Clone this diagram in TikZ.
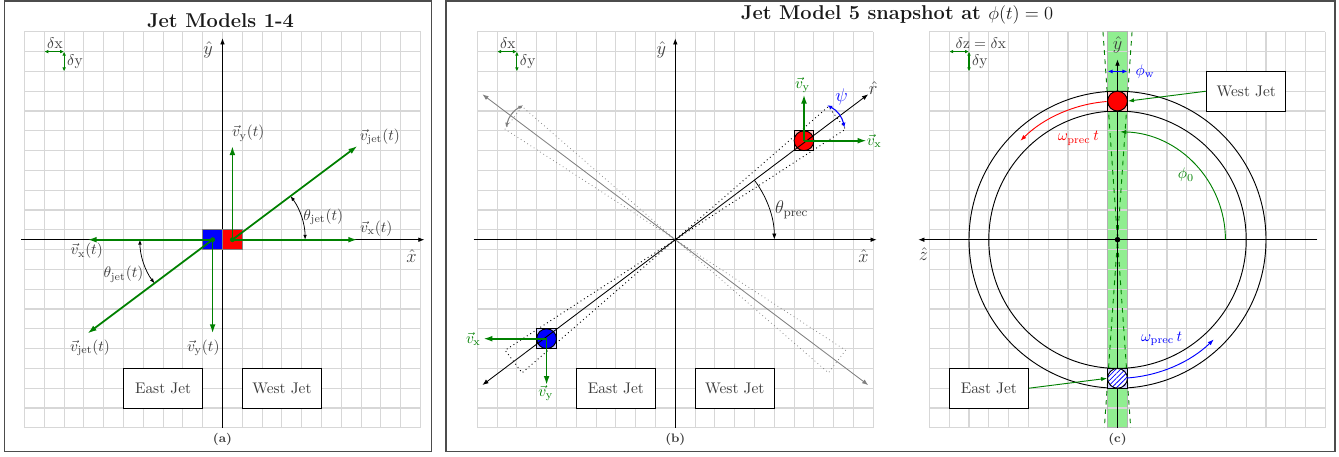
\documentclass[tikz,border=0pt]{standalone}
\usepackage{amsmath}
\usetikzlibrary{arrows.meta,patterns.meta}
\definecolor{gridgray}{RGB}{215,215,215}
\definecolor{lgreen}{RGB}{144,238,144}
\definecolor{dgreen}{RGB}{0,128,0}
\definecolor{labgray}{RGB}{60,60,60}
\tikzset{
  gridline/.style={gridgray, line width=0.75pt},
  axisline/.style={black, line width=0.5pt, -{Latex[length=4pt,width=3pt]}},
  axisboth/.style={line width=0.55pt, {Latex[length=4pt,width=3pt]}-{Latex[length=4pt,width=3pt]}},
  garr/.style={dgreen, line width=1.15pt, -{Latex[length=6pt,width=3.8pt]}},
  deltaarr/.style={dgreen, line width=0.75pt, {Latex[length=2.6pt,width=2.4pt]}-{Latex[length=2.6pt,width=2.4pt]}},
  angarr/.style={black, line width=0.5pt, {Latex[length=3.2pt,width=2.4pt]}-{Latex[length=3.2pt,width=2.4pt]}},
  smallboth/.style={line width=0.7pt, {Latex[length=3.2pt,width=2.6pt]}-{Latex[length=3.2pt,width=2.6pt]}},
  smallone/.style={line width=0.6pt, -{Latex[length=4pt,width=2.8pt]}},
  lab/.style={text=labgray, inner sep=0.5pt},
  biglab/.style={text=labgray, inner sep=0.5pt, font=\large},
  jetbox/.style={draw=black, fill=white, line width=0.6pt, minimum width=51.48pt, minimum height=25.74pt, inner sep=0pt, text=labgray},
  jetsq/.style={draw=black, line width=0.6pt, minimum size=12.87pt, inner sep=0pt},
  jetdisc/.style={circle, draw=black, line width=0.6pt, minimum size=12.87pt, inner sep=0pt},
  panelframe/.style={draw=black!70, line width=0.8pt},
  ttl/.style={font=\fontsize{13}{15}\selectfont\bfseries, text=black!90},
  figcap/.style={font=\footnotesize\bfseries, text=labgray},
  conn/.style={dgreen, line width=0.6pt, -{Latex[length=4pt,width=2.8pt]}},
  panel/.style={x=12.87pt, y=12.87pt},
}
\begin{document}
\begin{tikzpicture}[x=0.65pt,y=-0.65pt]
\useasboundingbox (0,0) rectangle (1339,456);
% frames
\draw[panelframe] (4.5,1) rectangle (431.5,451.5);
\draw[panelframe] (446,1) rectangle (1335,451.5);
\node[ttl] (t1) at (220.5,21) {Jet Models 1-4};
\node[ttl] (t2) at (897,15) {Jet Model 5 snapshot at $\phi(t)=0$};
\node[figcap] (capa) at (222.5,439) {(a)};
\node[figcap] (capb) at (675.3,439) {(b)};
\node[figcap] (capc) at (1117.5,439) {(c)};

% ================= panel (a)
\begin{scope}[shift={(222.5,239.7)}, panel]
  \foreach \i in {-10,...,10} \draw[gridline] (\i,-9.5) -- (\i,10.5);
  \foreach \j in {-9,...,11} \draw[gridline] (-10,{\j-0.5}) -- (10,{\j-0.5});
  \coordinate (a-x0) at (-10.18,0); \coordinate (a-x1) at (10.2,0);
  \coordinate (a-y0) at (0,-9.5); \coordinate (a-y1) at (0,10.17);
  \draw[axisline] (a-x0) -- (a-x1);
  \draw[axisline] (a-y0) -- (a-y1);
  \node[biglab] (a-yhat) at (-0.73,9.58) {$\hat{y}$};
  \node[biglab] (a-xhat) at (9.55,-0.82) {$\hat{x}$};
  \coordinate (a-d0) at (-9,9.5); \coordinate (a-d1) at (-8,9.5); \coordinate (a-d2) at (-8,8.5);
  \draw[deltaarr] (a-d0) -- (a-d1);
  \draw[deltaarr] (a-d1) -- (a-d2);
  \node[lab] (a-dx) at (-8.46,9.92) {$\delta\mathrm{x}$};
  \node[lab] (a-dy) at (-7.45,9.0) {$\delta\mathrm{y}$};
  \node[jetbox] (a-east) at (-3,-7.5) {East Jet};
  \node[jetbox] (a-west) at (3,-7.5) {West Jet};
  \node[jetsq, draw=black!50, fill=blue] (a-esq) at (-0.5,0) {};
  \node[jetsq, draw=black!50, fill=red] (a-wsq) at (0.5,0) {};
  % angle arcs
  \draw[angarr] (4.17,0) arc[start angle=0, end angle=36.9, radius=3.67];
  \draw[angarr] (-4.17,0) arc[start angle=180, end angle=216.9, radius=3.67];
  % velocity vectors
  \coordinate (a-wvj) at (6.82,4.74); \coordinate (a-wvx) at (6.82,0); \coordinate (a-wvy) at (0.5,4.74);
  \coordinate (a-evj) at (-6.82,-4.74); \coordinate (a-evx) at (-6.82,0); \coordinate (a-evy) at (-0.5,-4.74);
  \draw[garr] (a-wsq.center) -- (a-wvx);
  \draw[garr] (a-esq.center) -- (a-evx);
  \draw[garr] (a-wsq.center) -- (a-wvj);
  \draw[garr] (a-wsq.center) -- (a-wvy);
  \draw[garr] (a-esq.center) -- (a-evj);
  \draw[garr] (a-esq.center) -- (a-evy);
  \fill[dgreen] (a-wsq.center) circle (1.6pt);
  \fill[dgreen] (a-esq.center) circle (1.6pt);
  \node[lab] (a-l1) at (1.30,5.37) {$\vec{v}_{\mathrm{y}}(t)$};
  \node[lab] (a-l2) at (7.95,5.2) {$\vec{v}_{\mathrm{jet}}(t)$};
  \node[lab] (a-l3) at (5.09,1.16) {$\theta_{\mathrm{jet}}(t)$};
  \node[lab] (a-l4) at (7.77,0.58) {$\vec{v}_{\mathrm{x}}(t)$};
  \node[lab] (a-l5) at (-6.86,-0.57) {$\vec{v}_{\mathrm{x}}(t)$};
  \node[lab] (a-l6) at (-5.0,-1.75) {$\theta_{\mathrm{jet}}(t)$};
  \node[lab] (a-l7) at (-6.69,-5.45) {$\vec{v}_{\mathrm{jet}}(t)$};
  \node[lab] (a-l8) at (-0.97,-5.45) {$\vec{v}_{\mathrm{y}}(t)$};
\end{scope}

% ================= panel (b)
\begin{scope}[shift={(675.3,239.7)}, panel]
  \foreach \i in {-10,...,10} \draw[gridline] (\i,-9.5) -- (\i,10.5);
  \foreach \j in {-9,...,11} \draw[gridline] (-10,{\j-0.5}) -- (10,{\j-0.5});
  \coordinate (b-x0) at (-10.18,0); \coordinate (b-x1) at (10.17,0);
  \coordinate (b-y0) at (0,-9.5); \coordinate (b-y1) at (0,10.17);
  \draw[axisline] (b-x0) -- (b-x1);
  \draw[axisline] (b-y0) -- (b-y1);
  \node[biglab] (b-yhat) at (-0.7,9.58) {$\hat{y}$};
  \node[biglab] (b-xhat) at (9.5,-0.82) {$\hat{x}$};
  \coordinate (b-d0) at (-9,9.5); \coordinate (b-d1) at (-8,9.5); \coordinate (b-d2) at (-8,8.5);
  \draw[deltaarr] (b-d0) -- (b-d1);
  \draw[deltaarr] (b-d1) -- (b-d2);
  \node[lab] (b-dx) at (-8.46,9.92) {$\delta\mathrm{x}$};
  \node[lab] (b-dy) at (-7.45,9.0) {$\delta\mathrm{y}$};
  % mirrored (gray) jet cones
  \draw[gray, dotted, line width=0.5pt] (0,0) -- (139:10.25) -- (147:10.25) -- cycle;
  \draw[gray, dotted, line width=0.5pt] (0,0) -- (319:10.25) -- (327:10.25) -- cycle;
  \coordinate (b-g0) at (143:12.2); \coordinate (b-g1) at (-37:12.2);
  \draw[axisboth, gray] (b-g0) -- (b-g1);
  \coordinate (b-ga0) at (138.5:10.25); \coordinate (b-ga1) at (146.5:10.25);
  \draw[smallboth, gray] (b-ga0) to[bend right=25] (b-ga1);
  % actual jet cones
  \draw[black, dotted, line width=0.6pt] (0,0) -- (33:10.25) -- (41:10.25) -- cycle;
  \draw[black, dotted, line width=0.6pt] (0,0) -- (213:10.25) -- (221:10.25) -- cycle;
  \node[jetbox] (b-east) at (-3,-7.5) {East Jet};
  \node[jetbox] (b-west) at (3,-7.5) {West Jet};
  % precession angle
  \coordinate (b-th0) at (37:5);
  \draw[smallone, line width=0.5pt] (b-th0) arc[start angle=37, end angle=0, radius=5];
  \node[biglab] (b-th) at (5.88,1.5) {$\theta_{\mathrm{prec}}$};
  % jets
  \node[jetsq, fill=red!25] (b-wsq) at (6.5,5) {};
  \node[jetdisc, fill=red] (b-wd) at (6.5,5) {};
  \node[jetsq, fill=blue!20] (b-esq) at (-6.5,-5) {};
  \node[jetdisc, fill=blue] (b-ed) at (-6.5,-5) {};
  % r axis
  \coordinate (b-r0) at (217:12.2); \coordinate (b-r1) at (37:12.2);
  \draw[axisboth, black] (b-r0) -- (b-r1);
  \node[biglab] (b-rhat) at (10.0,7.65) {$\hat{r}$};
  % velocity components
  \coordinate (b-wvy) at (6.5,7.34); \coordinate (b-wvx) at (9.67,5);
  \coordinate (b-evy) at (-6.5,-7.35); \coordinate (b-evx) at (-9.7,-5);
  \draw[garr] (b-wd.center) -- (b-wvy);
  \draw[garr] (b-wd.center) -- (b-wvx);
  \draw[garr] (b-ed.center) -- (b-evy);
  \draw[garr] (b-ed.center) -- (b-evx);
  \node[text=dgreen, inner sep=0.5pt] (b-l1) at (6.43,7.81) {$\vec{v}_{\mathrm{y}}$};
  \node[text=dgreen, inner sep=0.5pt] (b-l2) at (10.05,5.0) {$\vec{v}_{\mathrm{x}}$};
  \node[text=dgreen, inner sep=0.5pt] (b-l3) at (-10.2,-5.03) {$\vec{v}_{\mathrm{x}}$};
  \node[text=dgreen, inner sep=0.5pt] (b-l4) at (-6.54,-7.75) {$\vec{v}_{\mathrm{y}}$};
  % psi
  \coordinate (b-p0) at (41.5:10.25); \coordinate (b-p1) at (33.5:10.25);
  \draw[smallboth, blue] (b-p0) to[bend left=25] (b-p1);
  \node[text=blue, font=\large, inner sep=0.5pt] (b-psi) at (8.4,7.2) {$\psi$};
\end{scope}

% ================= panel (c)
\begin{scope}[shift={(1117.5,239.7)}, panel]
  \fill[lgreen] (-0.5,-9.5) rectangle (0.5,10.5);
  \foreach \i in {-9,...,11} \draw[gridline] ({\i-0.5},-9.5) -- ({\i-0.5},10.5);
  \foreach \j in {-9,...,11} \draw[gridline] (-9.5,{\j-0.5}) -- (10.5,{\j-0.5});
  \draw[black!30, line width=0.75pt] (-0.5,-9.5) rectangle (0.5,10.5);
  % precession circles
  \draw[black, line width=0.6pt] (0,0) circle (7.5);
  \draw[black, line width=0.6pt] (0,0) circle (6.5);
  % jet cone (dashed)
  \draw[dgreen, dashed, line width=0.6pt] (-0.734,10.5) -- (0.664,-9.5);
  \draw[dgreen, dashed, line width=0.6pt] (0.734,10.5) -- (-0.664,-9.5);
  % axes
  \coordinate (c-z0) at (10.1,0); \coordinate (c-z1) at (-10.06,0);
  \coordinate (c-y0) at (0,-9.5); \coordinate (c-y1) at (0,9.1);
  \draw[axisline] (c-z0) -- (c-z1);
  \draw[axisline] (c-y0) -- (c-y1);
  \fill[black] (0,0) circle (1.8pt);
  \node[biglab] (c-yhat) at (0,9.83) {$\hat{y}$};
  \node[biglab] (c-zhat) at (-9.8,-0.74) {$\hat{z}$};
  % phi_w
  \coordinate (c-w0) at (-0.5,8.5); \coordinate (c-w1) at (0.5,8.5);
  \draw[smallboth, blue] (c-w0) -- (c-w1);
  \node[text=blue, inner sep=0.5pt] (c-phiw) at (1.39,8.48) {$\phi_{\mathrm{w}}$};
  % delta indicator
  \coordinate (c-d0) at (-8.5,9.5); \coordinate (c-d1) at (-7.5,9.5); \coordinate (c-d2) at (-7.5,8.5);
  \draw[deltaarr] (c-d0) -- (c-d1);
  \draw[deltaarr] (c-d1) -- (c-d2);
  \node[lab] (c-dx) at (-6.9,9.92) {$\delta\mathrm{z}=\delta\mathrm{x}$};
  \node[lab] (c-dy) at (-6.95,9.0) {$\delta\mathrm{y}$};
  % jets
  \node[jetsq, fill=red!25] (c-wsq) at (0,7) {};
  \node[jetdisc, fill=red] (c-wd) at (0,7) {};
  \node[jetsq, fill=blue!20] (c-esq) at (0,-7) {};
  \node[jetdisc, preaction={fill=white}, pattern={Lines[angle=45,distance=2.2pt,line width=0.5pt]}, pattern color=blue] (c-ed) at (0,-7) {};
  % arcs
  \coordinate (c-ra0) at (94.5:7);
  \draw[smallone, red] (c-ra0) arc[start angle=94.5, end angle=134.5, radius=7];
  \node[text=red, inner sep=0.5pt] (c-om1) at (-1.98,5.12) {$\omega_{\mathrm{prec}}\,t$};
  \coordinate (c-ba0) at (-86:7);
  \draw[smallone, blue] (c-ba0) arc[start angle=-86, end angle=-46, radius=7];
  \node[text=blue, inner sep=0.5pt] (c-om2) at (2.23,-5.0) {$\omega_{\mathrm{prec}}\,t$};
  \coordinate (c-ga0) at (5.45,0);
  \draw[smallone, dgreen] (c-ga0) arc[start angle=0, end angle=88.6, radius=5.45];
  \node[text=dgreen, inner sep=0.5pt] (c-phi0) at (3.46,3.27) {$\phi_0$};
  % labels boxes
  \node[jetbox] (c-west) at (6.5,7.5) {West Jet};
  \node[jetbox] (c-east) at (-6.5,-7.5) {East Jet};
  \draw[conn] (c-west.west) -- (c-wd.east);
  \draw[conn] (c-east.east) -- (c-ed.west);
\end{scope}
\end{tikzpicture}
\end{document}
